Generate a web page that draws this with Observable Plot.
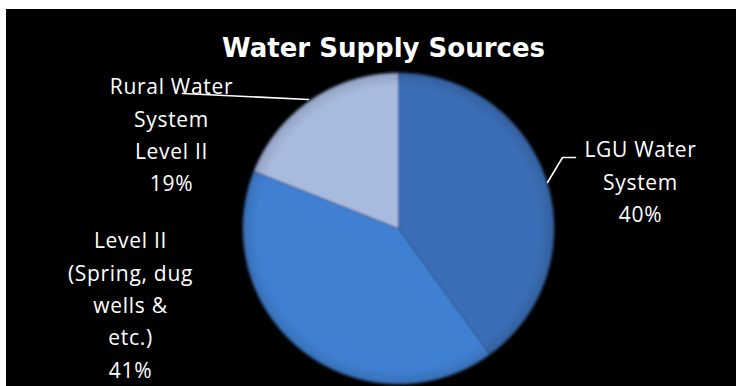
<!DOCTYPE html>
<html>
<head>
<meta charset="utf-8">
<script src="https://cdn.jsdelivr.net/npm/d3@7"></script>
<script src="https://cdn.jsdelivr.net/npm/@observablehq/plot@0.6"></script>
<style>
  html, body { margin: 0; padding: 0; background: #ffffff; }
  #chart { position: absolute; left: 6px; top: 9px; width: 730px; height: 377px; overflow: hidden; }
  #chart svg { display: block; }
</style>
</head>
<body>
<div id="chart"></div>
<script>
// ---- data ----
const title = "Water Supply Sources";
const categories = ["LGU Water System", "Level II (Spring, dug wells & etc.)", "Rural Water System Level II"];
const values = [40, 41, 19];
const labelLines = [
  ["LGU Water", "System"],
  ["Level II", "(Spring, dug", "wells &", "etc.)"],
  ["Rural Water", "System", "Level II"]
];

// ---- layout / style ----
const W = 730, H = 377;
const CX = 392, CY = 219, R = 156;
const colors = ["#3a6eb6", "#3f80d2", "#a9badf"];
const labelPos = [ {x: 634, y: 125}, {x: 124, y: 216}, {x: 165, y: 62} ];
const leaders = [
  [{x: 541, y: 173}, {x: 556, y: 148}, {x: 569, y: 148}],
  [],
  [{x: 176, y: 84}, {x: 302, y: 90}]
];

// ---- slice geometry from data ----
const total = d3.sum(values);
let acc = 0;
const slicePts = [];
categories.forEach((c, i) => {
  const a0 = acc / total * 2 * Math.PI;
  acc += values[i];
  const a1 = acc / total * 2 * Math.PI;
  slicePts.push({name: c, x: CX, y: CY});
  const n = Math.max(8, Math.ceil((a1 - a0) / 0.01));
  for (let k = 0; k <= n; k++) {
    const a = a0 + (a1 - a0) * k / n;
    slicePts.push({name: c, x: CX + R * Math.sin(a), y: CY - R * Math.cos(a)});
  }
  slicePts.push({name: c, x: CX, y: CY});
});

const labels = categories.map((c, i) => ({
  name: c,
  text: labelLines[i].join("\n") + "\n" + values[i] + "%",
  x: labelPos[i].x, y: labelPos[i].y
}));
const leaderPts = leaders.flatMap((pts, i) => pts.map(p => ({name: categories[i], ...p})));

const chart = Plot.plot({
  width: W, height: H,
  margin: 0,
  style: {background: "black", color: "white"},
  x: {domain: [0, W], range: [0, W], axis: null},
  y: {domain: [0, H], range: [0, H], axis: null},
  color: {domain: categories, range: colors},
  marks: [
    Plot.line(slicePts, {x: "x", y: "y", z: "name", fill: "name", stroke: "#203a60", strokeOpacity: 0.45, strokeWidth: 1, curve: "linear", className: "slices"}),
    Plot.dot([0], {x: () => CX, y: () => CY, r: R + 1, fill: "url(#rim)", stroke: "none"}),
    Plot.line(leaderPts, {x: "x", y: "y", z: "name", stroke: "white", strokeWidth: 1.6}),
    Plot.text(labels, {x: "x", y: "y", text: "text", fill: "white", fontSize: 21, lineHeight: 1.54, lineAnchor: "top", textAnchor: "middle", fontFamily: "Open Sans", className: "lbl"}),
    Plot.text([title], {x: () => 377, y: () => 29, text: d => d, fill: "white", fontSize: 26, fontWeight: "bold", fontFamily: "DejaVu Sans", lineAnchor: "top", textAnchor: "middle"})
  ]
});

const svg = d3.select(chart);
const defs = svg.insert("defs", ":first-child");
const g = defs.append("radialGradient").attr("id", "rim").attr("cx", "50%").attr("cy", "50%").attr("r", "50%");
g.append("stop").attr("offset", "0%").attr("stop-color", "#000").attr("stop-opacity", 0);
g.append("stop").attr("offset", "90%").attr("stop-color", "#000").attr("stop-opacity", 0.0);
g.append("stop").attr("offset", "97%").attr("stop-color", "#000").attr("stop-opacity", 0.1);
g.append("stop").attr("offset", "100%").attr("stop-color", "#000").attr("stop-opacity", 0.35);
const blur = defs.append("filter").attr("id", "soft").attr("x", "-5%").attr("y", "-5%").attr("width", "110%").attr("height", "110%");
blur.append("feGaussianBlur").attr("stdDeviation", 0.8);
svg.selectAll(".slices").attr("filter", "url(#soft)");
svg.selectAll(".lbl text").style("letter-spacing", "0.7px");
document.getElementById("chart").appendChild(chart);
</script>
</body>
</html>
